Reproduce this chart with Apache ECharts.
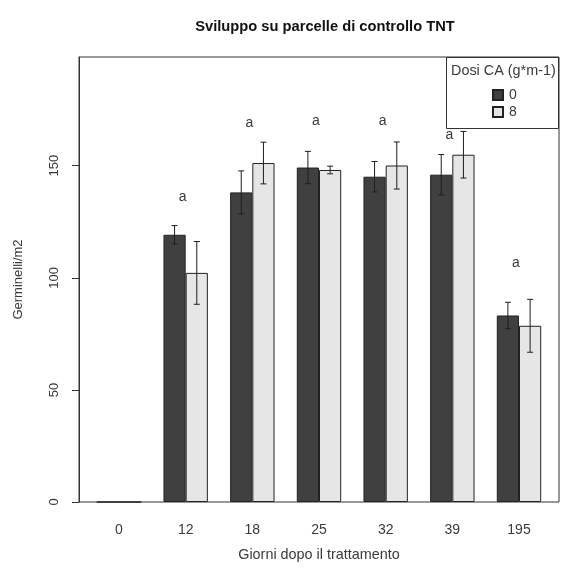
<!DOCTYPE html>
<html>
<head>
<meta charset="utf-8">
<script src="https://cdn.jsdelivr.net/npm/echarts@6/dist/echarts.min.js"></script>
<style>html,body{margin:0;padding:0;background:#fff}#c{width:561px;height:572px}</style>
</head>
<body>
<div id="c"></div>
<script>
const categories = ['0', '12', '18', '25', '32', '39', '195'];
const dose0 = [0, 119.2, 138.1, 149.2, 145.1, 146.0, 83.2];
const dose8 = [0, 102.2, 151.2, 148.1, 150.1, 154.9, 78.6];
const se0 = [0, 4.1, 9.6, 7.2, 6.8, 9.0, 5.9];
const se8 = [0, 14.0, 9.3, 1.7, 10.5, 10.4, 11.8];
const letters = ['', 'a', 'a', 'a', 'a', 'a', 'a'];
const letterY = [null, 136.2, 169.2, 169.8, 169.8, 163.5, 106.6];
const yTicks = [0, 50, 100, 150];
const yMax = 198.5;
const seriesNames = ['0', '8'];

const FONT = 'Liberation Sans, Arial, sans-serif';
const TXT = '#3a3a3a';

const chart = echarts.init(document.getElementById('c'), null, {renderer: 'canvas'});

function errData(means, ses) {
  const out = [];
  means.forEach((m, i) => { if (ses[i] > 0) out.push([i, m - ses[i], m + ses[i]]); });
  return out;
}
function errRender(side) {
  return function (params, api) {
    const bw = api.size([1, 0])[0];
    const off = side * bw / 6;
    const lo = api.coord([api.value(0), api.value(1)]);
    const hi = api.coord([api.value(0), api.value(2)]);
    const x = lo[0] + off;
    const cap = 3;
    const st = {stroke: '#1e1e1e', lineWidth: 1};
    return {type: 'group', children: [
      {type: 'line', shape: {x1: x, y1: lo[1], x2: x, y2: hi[1]}, style: st},
      {type: 'line', shape: {x1: x - cap, y1: lo[1], x2: x + cap, y2: lo[1]}, style: st},
      {type: 'line', shape: {x1: x - cap, y1: hi[1], x2: x + cap, y2: hi[1]}, style: st}
    ]};
  };
}

const option = {
  animation: false,
  backgroundColor: '#fff',
  title: {
    text: 'Sviluppo su parcelle di controllo TNT',
    left: 320, top: 14, textAlign: 'center',
    textStyle: {fontFamily: FONT, fontSize: 14.7, fontWeight: 'bold', color: '#111'}
  },
  grid: [
    {left: 79, top: 57, width: 480, height: 445, show: true, borderColor: '#333', borderWidth: 1, backgroundColor: 'transparent'},
    {left: 85.67, top: 57, width: 466.67, height: 445}
  ],
  xAxis: [
    {gridIndex: 0, type: 'value', show: false, min: 0, max: 1},
    {gridIndex: 1, type: 'category', data: categories,
     axisLine: {show: false}, axisTick: {show: false},
     axisLabel: {margin: 21, fontFamily: FONT, fontSize: 14, color: TXT},
     name: 'Giorni dopo il trattamento', nameLocation: 'middle', nameGap: 46,
     nameTextStyle: {fontFamily: FONT, fontSize: 14.4, color: TXT}}
  ],
  yAxis: [
    {gridIndex: 0, type: 'value', min: 0, max: yMax, interval: 50,
     splitLine: {show: false},
     axisLine: {show: true, lineStyle: {color: '#333'}},
     axisTick: {show: true, length: 7, lineStyle: {color: '#333'}, customValues: yTicks},
     axisLabel: {rotate: 90, margin: 18, fontFamily: FONT, fontSize: 13, color: TXT, customValues: yTicks},
     name: 'Germinelli/m2', nameLocation: 'middle', nameGap: 54, nameRotate: 90,
     nameTextStyle: {fontFamily: FONT, fontSize: 13, color: TXT}},
    {gridIndex: 1, type: 'value', min: 0, max: yMax, show: false}
  ],
  legend: {
    data: seriesNames, orient: 'vertical', left: 492, top: 88, padding: 0, z: 60,
    itemWidth: 10, itemHeight: 10, itemGap: 3, icon: 'rect',
    textStyle: {fontFamily: FONT, fontSize: 14, color: TXT, padding: [0, 0, 0, 1]}
  },
  graphic: [
    {type: 'rect', left: 446, top: 57, z: 50,
     shape: {width: 112, height: 71}, style: {fill: '#fff', stroke: '#333', lineWidth: 1}},
    {type: 'text', left: 451, top: 64, z: 51,
     style: {text: 'Dosi CA (g*m-1)', font: '14.4px ' + FONT, fill: TXT}}
  ],
  series: [
    {name: seriesNames[0], type: 'bar', xAxisIndex: 1, yAxisIndex: 1, data: dose0,
     barWidth: 22.2, barGap: '0%',
     itemStyle: {color: '#404040', borderColor: '#222', borderWidth: 1}},
    {name: seriesNames[1], type: 'bar', xAxisIndex: 1, yAxisIndex: 1, data: dose8,
     barWidth: 22.2, barGap: '0%',
     itemStyle: {color: '#e6e6e6', borderColor: '#222', borderWidth: 1}},
    {type: 'custom', xAxisIndex: 1, yAxisIndex: 1, data: errData(dose0, se0),
     renderItem: errRender(-1), z: 5, silent: true},
    {type: 'custom', xAxisIndex: 1, yAxisIndex: 1, data: errData(dose8, se8),
     renderItem: errRender(1), z: 5, silent: true},
    {type: 'custom', xAxisIndex: 1, yAxisIndex: 1,
     data: letterY.map((v, i) => [i, v]).filter(d => d[1] != null),
     renderItem: function (params, api) {
       const p = api.coord([api.value(0), api.value(1)]);
       return {type: 'text', x: p[0] - 3, y: p[1],
         style: {text: letters[api.value(0)], font: '14px ' + FONT, fill: TXT, align: 'center', verticalAlign: 'middle'}};
     }, z: 60, silent: true}
  ]
};
chart.setOption(option);
</script>
</body>
</html>
